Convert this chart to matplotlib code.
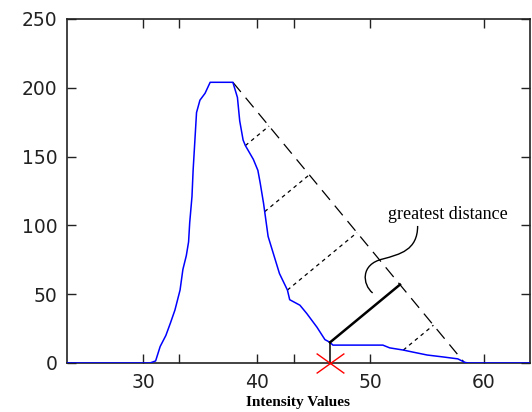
import numpy as np
import matplotlib.pyplot as plt
from matplotlib.path import Path
from matplotlib.patches import PathPatch

# histogram curve
intensity = [23.3, 30.6, 31.1, 31.5, 32.0, 32.4, 32.8, 33.25, 33.5, 33.8, 34.0,
             34.1, 34.3, 34.4, 34.7, 35.0, 35.45, 35.9, 37.9, 38.3, 38.5, 38.8,
             39.0, 39.7, 40.1, 40.3, 40.6, 41.0, 42.0, 42.7, 42.9, 43.8, 44.4,
             45.3, 46.0, 46.45, 46.7, 51.1, 51.7, 52.9, 53.7, 55.0, 56.4, 57.7,
             58.3, 58.6, 64.05]
counts = [0, 0, 1.5, 12, 20, 29, 38.5, 53, 68, 78, 88,
          102, 121, 140, 182, 191, 196, 204, 204, 193, 176, 162,
          158, 148, 140, 131, 116, 92, 65, 53, 46, 42, 36,
          26, 17, 15, 13, 13, 11, 9.4, 8, 5.8, 4.4, 3,
          0.5, 0, 0]

# chord from the peak to the end of the histogram
chord_x = [37.9, 58.3]
chord_y = [204, 0]

# points where distances to the chord are drawn
perp_x = [39.0, 40.7, 42.7, 52.9]
best_x = 46.45

xticks = [30, 33.2, 40, 43.3, 50, 60]
xtick_labels = ['30', '', '40', '', '50', '60']
yticks = [0, 50, 100, 150, 200, 250]

fig = plt.figure(figsize=(5.32, 4.12), dpi=100)
ax = fig.add_axes([67 / 532, 49 / 412, 463 / 532, 344 / 412])
ax.set_xlim(23.3, 64.05)
ax.set_ylim(0, 250)

ax.plot(intensity, counts, color='#0000ff', lw=1.1, zorder=3)
ax.plot(chord_x, chord_y, color='black', lw=0.9, ls=(0, (10, 6)), zorder=2)


def foot(x, y):
    # foot of the perpendicular on the chord, in screen space so it looks square
    p = ax.transData.transform([(x, y)])[0]
    a, b = ax.transData.transform(list(zip(chord_x, chord_y)))
    d = (b - a) / np.linalg.norm(b - a)
    f = a + np.dot(p - a, d) * d
    return ax.transData.inverted().transform([f])[0]


for px in perp_x:
    py = np.interp(px, intensity, counts)
    fx, fy = foot(px, py)
    ax.plot([px, fx], [py, fy], color='black', lw=0.9, ls=(0, (3, 3)), zorder=2)

by = np.interp(best_x, intensity, counts)
fx, fy = foot(best_x, by)
ax.plot([best_x, fx], [by, fy], color='black', lw=1.8, zorder=4)
ax.plot([best_x, best_x], [0, by], color='black', lw=1.1, zorder=4)

xmark = Path([(-1.4, -1), (1.4, 1), (-1.4, 1), (1.4, -1)],
             [Path.MOVETO, Path.LINETO, Path.MOVETO, Path.LINETO])
ax.plot([best_x], [0], marker=xmark, ms=20, mew=1.0, color='red',
        ls='none', clip_on=False, zorder=5)

# label and the curly pointer
ax.text(51.55, 108, 'greatest distance', family='Liberation Serif',
        fontsize=13, ha='left', va='center')
curl = Path([(54.16, 99.6), (54.16, 82.0), (52.6, 79.0), (51.1, 75.6),
             (49.1, 71.8), (49.3, 57.0), (50.2, 50.9)],
            [Path.MOVETO, Path.CURVE4, Path.CURVE4, Path.CURVE4,
             Path.CURVE4, Path.CURVE4, Path.CURVE4])
ax.add_patch(PathPatch(curl, fill=False, lw=1.0, color='black', zorder=4))

ax.set_xticks(xticks)
ax.set_xticklabels(xtick_labels)
ax.set_yticks(yticks)
ax.tick_params(direction='in', length=6.5, width=1.0, top=True, right=True,
               labelsize=13.5, pad=7, colors='#222222', labelcolor='#222222')
for s in ax.spines.values():
    s.set_linewidth(1.2)
    s.set_color('#222222')

ax.set_xlabel('Intensity Values', family='Liberation Serif', weight='bold',
              fontsize=11, labelpad=3)

fig.savefig('out.png', dpi=100)
